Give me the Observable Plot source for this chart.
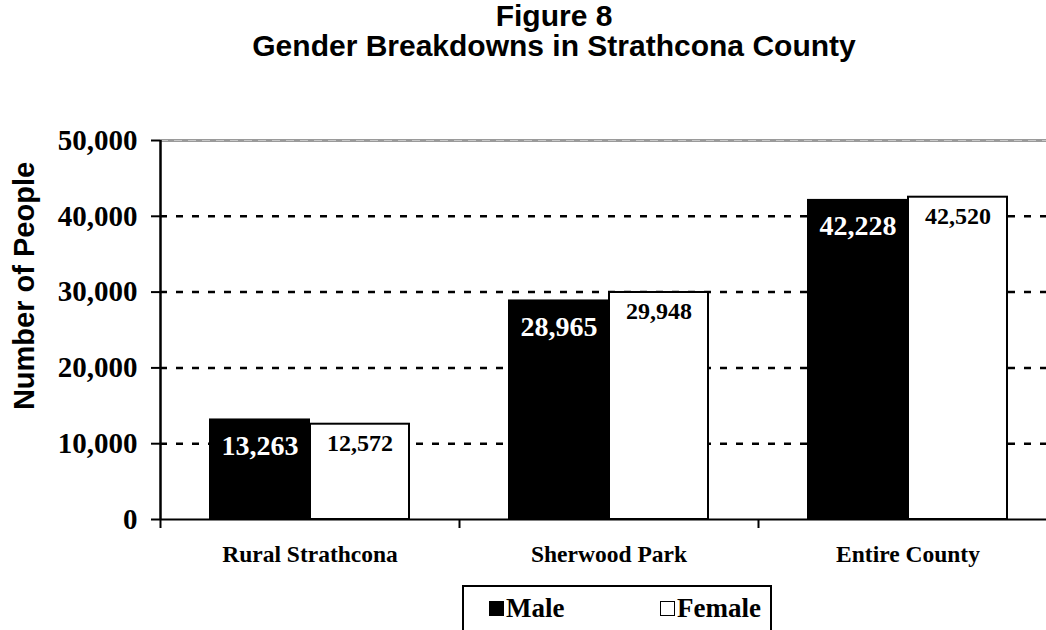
<!DOCTYPE html>
<html>
<head>
<meta charset="utf-8">
<script src="https://cdn.jsdelivr.net/npm/d3@7"></script>
<script src="https://cdn.jsdelivr.net/npm/@observablehq/plot@0.6"></script>
<style>
  html, body { margin: 0; padding: 0; background: #fff; overflow: hidden; }
  #wrap { position: relative; width: 1046px; height: 630px; overflow: hidden; }
  #title { position: absolute; top: 1px; left: 0; width: 1108px; text-align: center;
           font-family: "Liberation Sans", Arial, sans-serif; font-weight: bold; font-size: 30px; line-height: 30px; color: #000; }
  #ylabel { position: absolute; left: 24px; top: 286px; transform: translate(-50%, -50%) rotate(-90deg);
            white-space: nowrap; font-family: "Liberation Sans", Arial, sans-serif; font-weight: bold; font-size: 29px; color: #000; }
  #legend { position: absolute; left: 462px; top: 585px; width: 310px; height: 60px;
            border: 2px solid #000; background: #fff; box-sizing: border-box;
            font-family: "Liberation Serif", "Times New Roman", serif; font-weight: bold; font-size: 27px; color: #000; }
  .item { position: absolute; top: 6px; display: flex; align-items: center; line-height: 30px; }
  .sw { display: inline-block; width: 15px; height: 15px; margin-right: 2px; box-sizing: border-box; border: 1.5px solid #000; }
  #plot svg { display: block; }
</style>
</head>
<body>
<div id="wrap">
  <div id="plot"></div>
  <div id="title">Figure 8<br>Gender Breakdowns in Strathcona County</div>
  <div id="ylabel"></div>
  <div id="legend"></div>
</div>
<script>
const categories = ["Rural Strathcona", "Sherwood Park", "Entire County"];
const seriesNames = ["Male", "Female"];
const maleValues = [13263, 28965, 42228];
const femaleValues = [12572, 29948, 42520];
const yTicks = [0, 10000, 20000, 30000, 40000, 50000];
const gridTicks = [10000, 20000, 30000, 40000];
const topTick = [50000];
const yLabel = "Number of People";

const male = categories.map((c, i) => ({category: c, value: maleValues[i]}));
const female = categories.map((c, i) => ({category: c, value: femaleValues[i]}));

const serif = '"Liberation Serif", "Times New Roman", serif';
const fmt = d3.format(",");

const chart = Plot.plot({
  width: 1046,
  height: 630,
  marginTop: 140,
  marginBottom: 111,
  marginLeft: 160,
  marginRight: 0,
  style: {background: "#fff", color: "#000", overflow: "hidden"},
  x: {type: "band", domain: categories, range: [160, 1057], padding: 0},
  y: {domain: [0, 50000], ticks: yTicks},
  marks: [
    Plot.ruleY(topTick, {stroke: "#9a9a9a", strokeWidth: 3}),
    Plot.ruleY(topTick, {stroke: "#c8c8c8", strokeWidth: 1, strokeDasharray: "8,6"}),
    Plot.ruleY(gridTicks, {stroke: "#000", strokeWidth: 2.5, strokeDasharray: "7,9"}),
    Plot.barY(male, {x: "category", y: "value", fill: "#000", insetLeft: 49, insetRight: 149}),
    Plot.barY(female, {x: "category", y: "value", fill: "#fff", stroke: "#000", strokeWidth: 2, insetLeft: 150, insetRight: 50}),
    Plot.text(male, {x: "category", y: "value", text: d => fmt(d.value), dx: -50, dy: 27,
      fill: "#fff", fontFamily: serif, fontWeight: "bold", fontSize: 28}),
    Plot.text(female, {x: "category", y: "value", text: d => fmt(d.value), dx: 50, dy: 19,
      fill: "#000", fontFamily: serif, fontWeight: "bold", fontSize: 24}),
    Plot.ruleY([0], {stroke: "#000", strokeWidth: 2}),
    Plot.ruleX(categories.slice(0, 1), {x: d => d, dx: -149.5, stroke: "#000", strokeWidth: 2.5}),
    Plot.axisX({tickSize: 9, tickFormat: () => "", dx: -149.5, strokeWidth: 2}),
    Plot.axisX({tickSize: 0, tickPadding: 26, label: null, fontFamily: serif, fontWeight: "bold", fontSize: 23.5}),
    Plot.axisY({ticks: yTicks, tickSize: 9, tickPadding: 14, tickFormat: d => fmt(d), label: null,
      fontFamily: serif, fontWeight: "bold", fontSize: 29, strokeWidth: 2})
  ]
});
document.getElementById("plot").appendChild(chart);
document.getElementById("ylabel").textContent = yLabel;

const legend = document.getElementById("legend");
const fills = ["#000", "#fff"];
const lefts = [25, 196];
seriesNames.forEach((name, i) => {
  const item = document.createElement("div");
  item.className = "item";
  item.style.left = lefts[i] + "px";
  const sw = document.createElement("span");
  sw.className = "sw";
  sw.style.background = fills[i];
  item.appendChild(sw);
  item.appendChild(document.createTextNode(name));
  legend.appendChild(item);
});
</script>
</body>
</html>
